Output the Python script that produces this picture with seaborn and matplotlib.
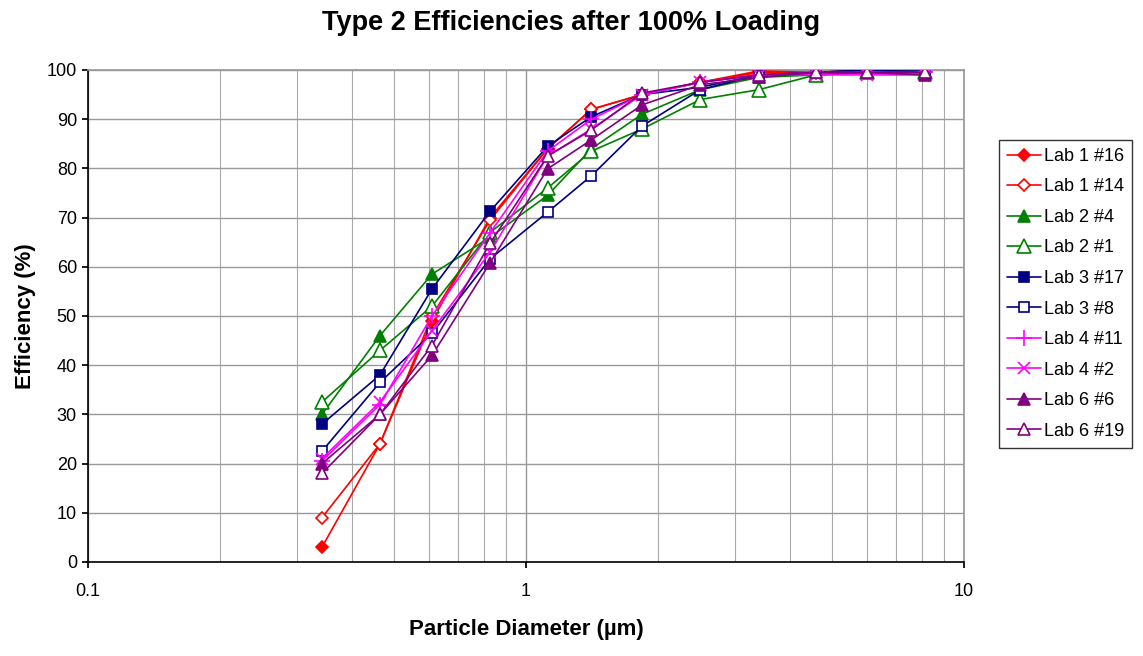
import numpy as np
import pandas as pd
import matplotlib
matplotlib.use("Agg")
import matplotlib.pyplot as plt
import seaborn as sns
from matplotlib.ticker import FixedLocator, NullFormatter, FixedFormatter

diameters = [0.342, 0.464, 0.61, 0.828, 1.12, 1.41, 1.84, 2.5, 3.4, 4.59, 6.0, 8.15]

lab1_16 = [3, 24, 49, 70, 84, 92, 95, 97.5, 99.5, 99.5, 99.5, 99.5]
lab1_14 = [9, 24, 50, 69.5, 84, 92, 95, 97.5, 99.8, 99.5, 100, 99.5]
lab2_4 = [30, 46, 58.5, 66, 74.5, 84, 91, 96, 98.5, 99, 99.5, 99.5]
lab2_1 = [32.5, 43, 52, 67, 76, 83.5, 88, 94, 96, 99, 99.5, 99.5]
lab3_17 = [28, 38, 55.5, 71.3, 84.5, 90.5, 95, 96.5, 99, 99.5, 100, 99.5]
lab3_8 = [22.5, 36.5, 46.5, 61.6, 71.1, 78.5, 88.6, 96, 99, 99.5, 100, 100]
lab4_11 = [20.5, 32, 50, 66.9, 83.5, 90, 95, 97.5, 99, 99.5, 99.5, 99.5]
lab4_2 = [21, 32.5, 47, 63, 82.5, 88, 95, 97.5, 99, 99, 99, 99]
lab6_6 = [20, 30, 42, 60.8, 79.9, 85.8, 92.9, 97, 98.5, 99.5, 99.5, 99]
lab6_19 = [18, 30, 44, 64.8, 82.5, 87.8, 95.3, 97.5, 99, 99.5, 99.5, 99.5]

series_names = ["Lab 1 #16", "Lab 1 #14", "Lab 2 #4", "Lab 2 #1", "Lab 3 #17",
                "Lab 3 #8", "Lab 4 #11", "Lab 4 #2", "Lab 6 #6", "Lab 6 #19"]
series_values = [lab1_16, lab1_14, lab2_4, lab2_1, lab3_17, lab3_8, lab4_11, lab4_2, lab6_6, lab6_19]

colors = ["#FF0000", "#FF0000", "#008000", "#008000", "#000080",
          "#000080", "#FF00FF", "#FF00FF", "#800080", "#800080"]
markers = ["D", "D", "^", "^", "s", "s", "+", "x", "^", "^"]
filled = [True, False, True, False, True, False, True, True, True, False]
msizes = [6, 6, 8, 10, 7, 7, 12, 9, 8, 8]

rows = []
for name, vals in zip(series_names, series_values):
    for d, v in zip(diameters, vals):
        rows.append({"series": name, "diameter": d, "efficiency": v})
df = pd.DataFrame(rows)

sns.set_theme(style="white")
plt.rcParams['font.family'] = ['Liberation Sans', 'DejaVu Sans']
plt.rcParams['text.color'] = 'black'
plt.rcParams['axes.labelcolor'] = 'black'
plt.rcParams['xtick.color'] = 'black'
plt.rcParams['ytick.color'] = 'black'

fig = plt.figure(figsize=(11.43, 6.56), dpi=100)
ax = fig.add_axes([0.077, 0.1433, 0.7664, 0.75])

for i, name in enumerate(series_names):
    sub = df[df["series"] == name]
    mfc = colors[i] if filled[i] else "white"
    sns.lineplot(data=sub, x="diameter", y="efficiency", ax=ax, color=colors[i],
                 marker=markers[i], markersize=msizes[i], markerfacecolor=mfc,
                 markeredgecolor=colors[i], markeredgewidth=1.2, linewidth=1.2,
                 label=name, sort=False, zorder=3 + i * 0.01)

ax.set_xscale("log")
ax.set_xlim(0.1, 10)
ax.set_ylim(0, 100)
ax.xaxis.set_major_locator(FixedLocator([0.1, 1, 10]))
ax.xaxis.set_major_formatter(FixedFormatter(["0.1", "1", "10"]))
minors = [m * 10.0 ** e for e in (-1, 0) for m in range(2, 10)]
ax.xaxis.set_minor_locator(FixedLocator(minors))
ax.xaxis.set_minor_formatter(NullFormatter())
ax.set_yticks(range(0, 101, 10))

ax.grid(True, which="major", axis="both", color="#999999", linewidth=1.0)
ax.grid(True, which="minor", axis="x", color="#AAAAAA", linewidth=0.8)
ax.set_axisbelow(True)
for side in ["top", "right"]:
    ax.spines[side].set_color("#999999")
for side in ["left", "bottom"]:
    ax.spines[side].set_color("black")
    ax.spines[side].set_linewidth(1.2)

ax.tick_params(axis="x", which="major", labelsize=13, length=4, direction="out", bottom=True, pad=11)
ax.tick_params(axis="y", which="major", labelsize=13, length=4, direction="out", left=True, pad=4)
ax.tick_params(axis="x", which="minor", length=0)

ax.set_xlabel("Particle Diameter (µm)", fontsize=16, fontweight="bold", labelpad=14)
ax.set_ylabel("Efficiency (%)", fontsize=16, fontweight="bold", labelpad=8)
fig.suptitle("Type 2 Efficiencies after 100% Loading", fontsize=19.5, fontweight="bold", y=0.985)

leg = ax.legend(loc="upper left", bbox_to_anchor=(0.874, 0.787), bbox_transform=fig.transFigure,
                frameon=True, fancybox=False, fontsize=13, labelspacing=0.75,
                handlelength=1.85, borderpad=0.45, handletextpad=0.2, borderaxespad=0)
leg.get_frame().set_edgecolor("black")
leg.get_frame().set_linewidth(1.0)

fig.savefig("out.png", dpi=100, facecolor="white")
